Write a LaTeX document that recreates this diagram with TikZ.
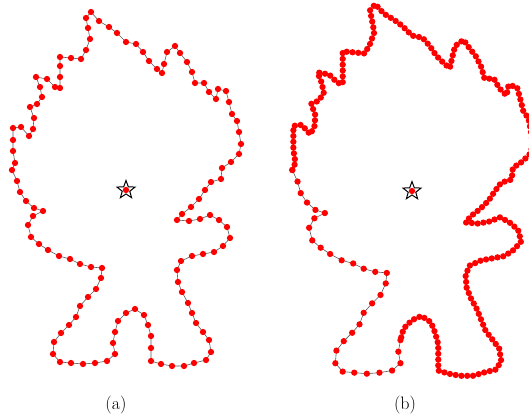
\documentclass[tikz,border=0pt]{standalone}
\usetikzlibrary{shapes.geometric,decorations.markings}
\begin{document}
\begin{tikzpicture}[x=1pt,y=-1pt,
  edge/.style={draw=black!65,line width=0.6pt},
  pt/.style={circle,fill=red,inner sep=0pt,minimum size=6.3pt},
  centre/.style={star,star points=5,star point ratio=2.4,draw=black,line width=1pt,fill=white,minimum size=19pt,inner sep=0pt},
  caption/.style={font=\fontsize{18}{21}\selectfont}]
\useasboundingbox (0,0) rectangle (529,416);
\def\shapepts{91/12,99/21,109/27,117/33,126/42,136/44,143/52,149/61,157/69,162/73,
164/64,167/52,175/46,180/53,187/62,192/72,195/83,204/83,209/92,216/99,
218/89,226/91,229/102,232/114,237/121,239/132,241/144,239/154,231/162,222/168,
221/179,211/182,205/190,199/199,191/207,182/214,177/220,189/221,200/219,210/215,
219/220,227/227,230/238,223/246,214/252,203/254,192/256,181/261,177/270,178/282,
182/292,188/303,192/313,196/323,203/332,209/340,211/352,206/360,194/363,184/366,
172/366,161/364,151/361,151/348,151/336,148/325,144/315,135/309,126/313,118/321,
115/332,113/343,115/354,107/361,95/363,83/364,71/363,60/362,53/354,54/342,
61/333,69/325,76/317,80/306,88/297,96/289,101/278,102/268,91/267,80/264,
70/259,59/256,48/250,39/244,31/237,28/225,33/216,43/211,34/208,26/201,
20/192,17/181,12/170,15/163,13/151,13/140,13/128,21/127,29/136,33/129,
34/118,30/107,37/104,42/97,40/87,36/77,47/79,55/87,60/88,60/77,
60/66,60/57,71/58,81/59,86/50,90/39,88/28,86/18}
% panel (a)
\foreach \x/\y [count=\i] in \shapepts { \coordinate (a\i) at (\x,\y); }
\draw[edge] (a1) \foreach \i in {2,...,128}{ -- (a\i) } -- cycle;
\foreach \i in {1,...,128}{ \node[pt] (da\i) at (a\i) {}; }
\node[centre] (sa) at (126,190) {};
\node[pt] (ca) at (sa.center) {};
% panel (b)
\begin{scope}[shift={(412,191)},scale=1.05,shift={(-126,-190)}]
\foreach \x/\y [count=\i] in \shapepts { \coordinate (b\i) at (\x,\y); }
\end{scope}
\draw[edge] (b1) \foreach \i in {2,...,128}{ -- (b\i) } -- cycle;
\path[postaction={decorate},decoration={markings,
  mark=between positions 0 and 1 step 5.8pt with {\node[pt]{};}}]
  (b103) \foreach \i in {104,...,128}{ -- (b\i) } -- (b1) \foreach \i in {2,...,71}{ -- (b\i) };
\foreach \i in {71,...,103}{ \node[pt] (db\i) at (b\i) {}; }
\node[centre] (sb) at (412,191) {};
\node[pt] (cb) at (sb.center) {};
% captions
\node[caption] (la) at (116,405) {(a)};
\node[caption] (lb) at (405,405) {(b)};
\end{tikzpicture}
\end{document}
